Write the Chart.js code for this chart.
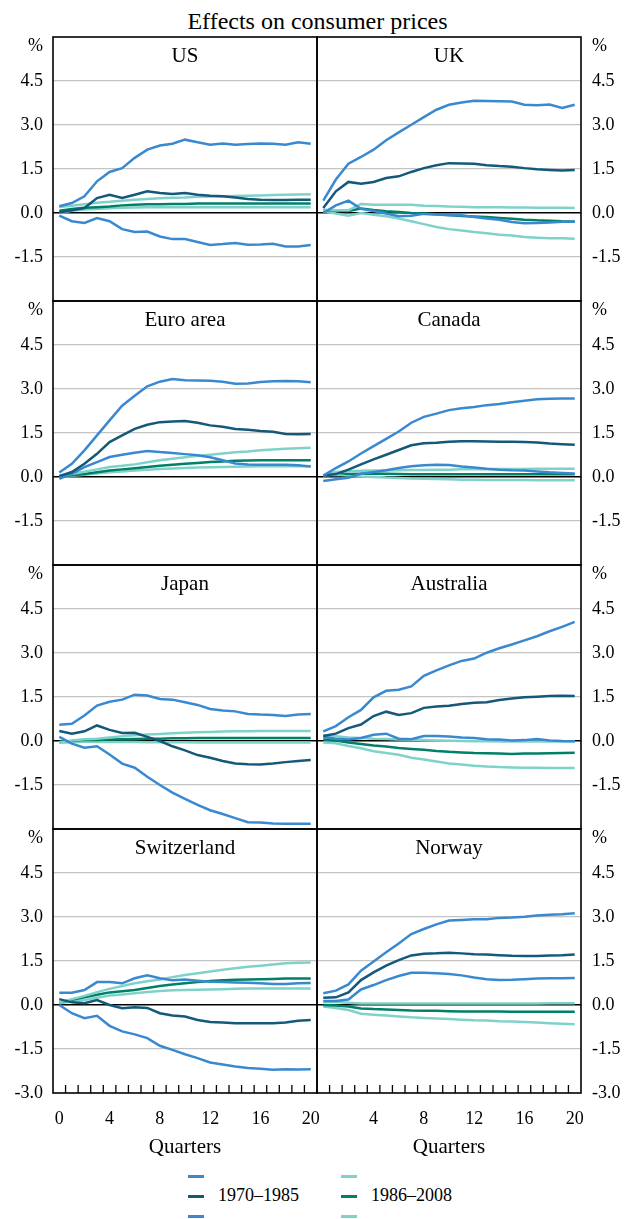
<!DOCTYPE html>
<html>
<head>
<meta charset="utf-8">
<title>Effects on consumer prices</title>
<script src="https://cdn.jsdelivr.net/npm/chart.js@4.4.1/dist/chart.umd.min.js"></script>
<style>
  html, body { margin: 0; padding: 0; background: #fff; }
  body {
    width: 629px; height: 1219px; position: relative; overflow: hidden;
    font-family: "Liberation Serif", "Times New Roman", serif; color: #000;
  }
  canvas { position: absolute; }
  #title {
    position: absolute; left: 0; top: 9px; width: 635px;
    text-align: center; font-size: 24px; line-height: 24px;
  }
  .legend-item {
    position: absolute; height: 18px; font-size: 18px; line-height: 18px; white-space: nowrap;
  }
  .legend-item .swatch {
    display: inline-block; width: 16px; height: 3px; vertical-align: middle; margin-right: 14px;
  }
</style>
</head>
<body>
<div id="title">Effects on consumer prices</div>
<div id="legend"></div>
<script>
// Trimestres del eje x y marcas visibles
const quarters = [0, 1, 2, 3, 4, 5, 6, 7, 8, 9, 10, 11, 12, 13, 14, 15, 16, 17, 18, 19, 20];
const quarterTicks = [0, 4, 8, 12, 16, 20];
const yTicks = [-3.0, -1.5, 0.0, 1.5, 3.0, 4.5, 6.0];

// Series: banda superior, central, banda inferior (1970–1985), luego lo mismo para 1986–2008
const seriesLabels = ["", "1970–1985", "", "", "1986–2008", ""];
const seriesColors = ["#3a89d0", "#14587a", "#3a89d0", "#7fd2c9", "#008066", "#7fd2c9"];

const usData = [
  [0.23, 0.34, 0.57, 1.08, 1.40, 1.53, 1.88, 2.16, 2.30, 2.36, 2.50, 2.41, 2.33, 2.37, 2.33, 2.35, 2.37, 2.36, 2.33, 2.41, 2.36],
  [0.02, 0.09, 0.17, 0.51, 0.62, 0.51, 0.62, 0.74, 0.68, 0.65, 0.68, 0.62, 0.59, 0.57, 0.53, 0.48, 0.45, 0.44, 0.44, 0.45, 0.45],
  [-0.09, -0.28, -0.34, -0.17, -0.28, -0.55, -0.65, -0.63, -0.80, -0.89, -0.89, -0.99, -1.09, -1.06, -1.02, -1.08, -1.07, -1.05, -1.14, -1.14, -1.09],
  [0.20, 0.25, 0.30, 0.35, 0.38, 0.42, 0.45, 0.48, 0.50, 0.52, 0.53, 0.55, 0.56, 0.57, 0.58, 0.59, 0.60, 0.61, 0.62, 0.63, 0.64],
  [0.08, 0.14, 0.18, 0.20, 0.22, 0.26, 0.28, 0.30, 0.30, 0.31, 0.31, 0.32, 0.32, 0.32, 0.32, 0.32, 0.32, 0.32, 0.32, 0.32, 0.32],
  [0.00, 0.08, 0.12, 0.14, 0.16, 0.18, 0.19, 0.20, 0.20, 0.20, 0.20, 0.20, 0.20, 0.20, 0.20, 0.20, 0.20, 0.20, 0.20, 0.20, 0.20]
];

const ukData = [
  [0.42, 1.14, 1.68, 1.91, 2.16, 2.48, 2.75, 3.01, 3.27, 3.52, 3.69, 3.77, 3.83, 3.82, 3.81, 3.80, 3.69, 3.67, 3.70, 3.58, 3.69],
  [0.17, 0.74, 1.06, 1.00, 1.06, 1.19, 1.25, 1.40, 1.53, 1.63, 1.70, 1.69, 1.68, 1.63, 1.60, 1.58, 1.53, 1.49, 1.47, 1.45, 1.47],
  [0.00, 0.26, 0.42, 0.14, 0.07, -0.02, -0.11, -0.09, -0.03, -0.05, -0.08, -0.08, -0.14, -0.19, -0.23, -0.31, -0.35, -0.34, -0.32, -0.30, -0.30],
  [0.11, 0.09, 0.09, 0.31, 0.28, 0.28, 0.28, 0.28, 0.25, 0.24, 0.22, 0.21, 0.20, 0.20, 0.20, 0.19, 0.19, 0.18, 0.18, 0.18, 0.17],
  [0.09, 0.08, 0.07, 0.15, 0.10, 0.06, 0.03, 0.00, -0.02, -0.04, -0.07, -0.10, -0.12, -0.14, -0.17, -0.20, -0.23, -0.25, -0.26, -0.28, -0.29],
  [0.06, -0.02, -0.09, 0.00, -0.06, -0.11, -0.19, -0.28, -0.38, -0.48, -0.55, -0.60, -0.65, -0.69, -0.74, -0.77, -0.82, -0.84, -0.86, -0.86, -0.88]
];

const euroData = [
  [0.15, 0.45, 0.91, 1.42, 1.93, 2.43, 2.77, 3.09, 3.25, 3.34, 3.30, 3.29, 3.28, 3.25, 3.18, 3.19, 3.24, 3.26, 3.27, 3.26, 3.23],
  [0.03, 0.17, 0.45, 0.79, 1.19, 1.42, 1.64, 1.78, 1.87, 1.89, 1.91, 1.85, 1.76, 1.71, 1.64, 1.61, 1.57, 1.54, 1.47, 1.46, 1.47],
  [-0.06, 0.11, 0.34, 0.51, 0.68, 0.76, 0.83, 0.89, 0.85, 0.82, 0.78, 0.74, 0.67, 0.57, 0.46, 0.43, 0.42, 0.42, 0.42, 0.40, 0.36],
  [0.05, 0.10, 0.18, 0.26, 0.34, 0.38, 0.43, 0.50, 0.57, 0.62, 0.67, 0.72, 0.76, 0.80, 0.84, 0.87, 0.91, 0.94, 0.96, 0.98, 1.00],
  [0.02, 0.06, 0.10, 0.16, 0.22, 0.26, 0.30, 0.34, 0.38, 0.42, 0.45, 0.48, 0.51, 0.53, 0.55, 0.56, 0.57, 0.57, 0.57, 0.57, 0.57],
  [0.00, 0.04, 0.08, 0.12, 0.16, 0.19, 0.22, 0.25, 0.27, 0.29, 0.31, 0.32, 0.33, 0.34, 0.35, 0.36, 0.37, 0.37, 0.37, 0.37, 0.37]
];

const canadaData = [
  [0.05, 0.30, 0.53, 0.80, 1.05, 1.30, 1.55, 1.85, 2.05, 2.16, 2.28, 2.34, 2.39, 2.45, 2.49, 2.55, 2.60, 2.65, 2.67, 2.68, 2.68],
  [0.05, 0.10, 0.25, 0.43, 0.60, 0.76, 0.92, 1.08, 1.15, 1.17, 1.20, 1.22, 1.22, 1.21, 1.20, 1.20, 1.19, 1.18, 1.14, 1.12, 1.10],
  [-0.14, -0.08, -0.03, 0.11, 0.17, 0.23, 0.31, 0.37, 0.40, 0.42, 0.41, 0.36, 0.32, 0.28, 0.25, 0.23, 0.22, 0.19, 0.16, 0.14, 0.12],
  [0.05, 0.17, 0.20, 0.21, 0.22, 0.22, 0.23, 0.24, 0.24, 0.25, 0.25, 0.26, 0.26, 0.26, 0.27, 0.27, 0.27, 0.28, 0.28, 0.28, 0.28],
  [0.05, 0.15, 0.10, 0.11, 0.12, 0.11, 0.10, 0.09, 0.09, 0.09, 0.09, 0.09, 0.09, 0.09, 0.09, 0.09, 0.09, 0.09, 0.09, 0.09, 0.09],
  [0.05, 0.08, 0.05, 0.02, 0.00, -0.02, -0.03, -0.05, -0.06, -0.07, -0.08, -0.09, -0.09, -0.10, -0.10, -0.10, -0.10, -0.11, -0.11, -0.11, -0.11]
];

const japanData = [
  [0.55, 0.59, 0.87, 1.21, 1.34, 1.41, 1.58, 1.55, 1.43, 1.41, 1.32, 1.23, 1.09, 1.04, 1.01, 0.92, 0.90, 0.89, 0.85, 0.90, 0.92],
  [0.34, 0.25, 0.33, 0.53, 0.38, 0.27, 0.28, 0.14, 0.00, -0.18, -0.32, -0.48, -0.57, -0.68, -0.77, -0.79, -0.80, -0.77, -0.72, -0.68, -0.65],
  [0.14, -0.09, -0.23, -0.18, -0.46, -0.77, -0.91, -1.22, -1.50, -1.76, -1.97, -2.18, -2.36, -2.49, -2.63, -2.77, -2.78, -2.81, -2.82, -2.82, -2.82],
  [-0.05, 0.02, 0.06, 0.08, 0.12, 0.16, 0.20, 0.22, 0.24, 0.26, 0.28, 0.30, 0.31, 0.32, 0.33, 0.33, 0.34, 0.34, 0.34, 0.34, 0.34],
  [-0.02, 0.00, 0.04, 0.03, 0.05, 0.06, 0.07, 0.08, 0.08, 0.09, 0.09, 0.10, 0.10, 0.10, 0.10, 0.10, 0.10, 0.10, 0.10, 0.10, 0.10],
  [-0.06, -0.04, -0.02, -0.03, -0.03, -0.03, -0.03, -0.04, -0.04, -0.04, -0.04, -0.05, -0.05, -0.05, -0.05, -0.05, -0.05, -0.05, -0.05, -0.05, -0.05]
];

const australiaData = [
  [0.33, 0.51, 0.81, 1.06, 1.49, 1.71, 1.75, 1.86, 2.22, 2.41, 2.58, 2.73, 2.81, 3.01, 3.16, 3.29, 3.43, 3.57, 3.74, 3.89, 4.06],
  [0.17, 0.25, 0.44, 0.56, 0.85, 1.00, 0.89, 0.95, 1.13, 1.18, 1.20, 1.26, 1.30, 1.32, 1.40, 1.45, 1.49, 1.51, 1.53, 1.54, 1.53],
  [0.14, 0.08, 0.05, 0.10, 0.21, 0.25, 0.08, 0.06, 0.17, 0.17, 0.15, 0.12, 0.10, 0.06, 0.05, 0.02, 0.03, 0.07, 0.02, 0.00, -0.01],
  [0.19, 0.16, 0.12, 0.10, 0.08, 0.07, 0.05, 0.04, 0.03, 0.02, 0.01, 0.00, -0.01, -0.01, -0.02, -0.02, -0.02, -0.02, -0.02, -0.02, -0.02],
  [0.05, 0.02, -0.05, -0.10, -0.15, -0.19, -0.24, -0.27, -0.30, -0.34, -0.37, -0.39, -0.41, -0.42, -0.43, -0.44, -0.43, -0.43, -0.42, -0.41, -0.40],
  [-0.05, -0.08, -0.17, -0.25, -0.35, -0.41, -0.47, -0.57, -0.63, -0.70, -0.77, -0.80, -0.84, -0.87, -0.89, -0.90, -0.91, -0.91, -0.92, -0.92, -0.92]
];

const switzerlandData = [
  [0.42, 0.42, 0.51, 0.78, 0.78, 0.74, 0.91, 1.01, 0.91, 0.84, 0.87, 0.83, 0.79, 0.78, 0.77, 0.76, 0.74, 0.72, 0.72, 0.74, 0.75],
  [0.20, 0.09, 0.06, 0.17, 0.00, -0.11, -0.08, -0.10, -0.28, -0.36, -0.39, -0.51, -0.58, -0.60, -0.62, -0.62, -0.62, -0.62, -0.60, -0.54, -0.51],
  [0.00, -0.28, -0.45, -0.37, -0.71, -0.90, -1.00, -1.13, -1.39, -1.53, -1.68, -1.81, -1.96, -2.03, -2.10, -2.15, -2.17, -2.21, -2.19, -2.20, -2.19],
  [0.09, 0.20, 0.31, 0.44, 0.55, 0.65, 0.74, 0.81, 0.87, 0.95, 1.02, 1.08, 1.14, 1.20, 1.25, 1.30, 1.34, 1.38, 1.42, 1.44, 1.45],
  [0.09, 0.18, 0.26, 0.35, 0.43, 0.47, 0.51, 0.58, 0.65, 0.70, 0.74, 0.78, 0.82, 0.84, 0.86, 0.87, 0.88, 0.89, 0.90, 0.90, 0.90],
  [0.06, 0.12, 0.17, 0.25, 0.32, 0.36, 0.40, 0.44, 0.48, 0.50, 0.51, 0.52, 0.53, 0.54, 0.55, 0.56, 0.56, 0.56, 0.56, 0.56, 0.56]
];

const norwayData = [
  [0.40, 0.49, 0.70, 1.17, 1.48, 1.80, 2.10, 2.42, 2.59, 2.75, 2.88, 2.90, 2.92, 2.92, 2.97, 2.98, 3.01, 3.05, 3.08, 3.09, 3.13],
  [0.25, 0.26, 0.43, 0.85, 1.11, 1.34, 1.53, 1.69, 1.75, 1.76, 1.78, 1.76, 1.73, 1.72, 1.70, 1.68, 1.67, 1.67, 1.69, 1.70, 1.72],
  [0.14, 0.14, 0.19, 0.53, 0.68, 0.85, 0.99, 1.10, 1.10, 1.08, 1.06, 1.01, 0.94, 0.88, 0.85, 0.86, 0.88, 0.90, 0.91, 0.91, 0.92],
  [0.10, 0.10, 0.08, 0.05, 0.05, 0.05, 0.05, 0.05, 0.05, 0.05, 0.05, 0.05, 0.05, 0.05, 0.05, 0.05, 0.05, 0.05, 0.06, 0.06, 0.06],
  [0.00, -0.02, -0.05, -0.12, -0.14, -0.15, -0.17, -0.19, -0.20, -0.20, -0.21, -0.22, -0.22, -0.22, -0.22, -0.23, -0.23, -0.23, -0.23, -0.23, -0.23],
  [-0.05, -0.10, -0.17, -0.30, -0.33, -0.36, -0.39, -0.42, -0.44, -0.46, -0.48, -0.50, -0.52, -0.53, -0.55, -0.56, -0.58, -0.60, -0.62, -0.64, -0.66]
];

const panelNames = ["US", "UK", "Euro area", "Canada", "Japan", "Australia", "Switzerland", "Norway"];
const panelData = [usData, ukData, euroData, canadaData, japanData, australiaData, switzerlandData, norwayData];

// Geometría del marco
const FRAME_TOP = 37;
const PANEL_H = 264;
const FONT = '"Liberation Serif", "Times New Roman", serif';
const AXIS_FONT = { family: FONT, size: 18 };

Chart.defaults.font.family = FONT;
Chart.defaults.color = "#000";

// Marco, título del panel, signo % y marcas interiores del eje x
const panelDecor = {
  id: "panelDecor",
  afterDraw(chart, args, opts) {
    const { ctx, chartArea: a } = chart;
    ctx.save();
    if (opts.ticks) {
      const xs = chart.scales.x;
      ctx.strokeStyle = "#000";
      ctx.lineWidth = 1.3;
      ctx.beginPath();
      for (let i = 0; i < quarters.length - 1; i++) {
        const px = (xs.getPixelForValue(i) + xs.getPixelForValue(i + 1)) / 2;
        ctx.moveTo(px, a.bottom);
        ctx.lineTo(px, a.bottom - 8);
      }
      ctx.stroke();
    }
    ctx.strokeStyle = "#000";
    ctx.lineWidth = 1.6;
    ctx.strokeRect(a.left, a.top, a.right - a.left, a.bottom - a.top);

    ctx.fillStyle = "#000";
    ctx.textBaseline = "alphabetic";
    ctx.font = "21px " + FONT;
    ctx.textAlign = "center";
    ctx.fillText(opts.name, (a.left + a.right) / 2, a.top + 25);

    ctx.font = "18px " + FONT;
    ctx.textAlign = opts.left ? "right" : "left";
    ctx.fillText("%", opts.left ? a.left - 10 : a.right + 11, a.top + 14);
    ctx.restore();
  }
};

function makePanel(index) {
  const isLeft = index % 2 === 0;
  const row = Math.floor(index / 2);
  const isBottom = row === 3;

  const canvas = document.createElement("canvas");
  canvas.width = isLeft ? 320 : 315;
  canvas.height = isBottom ? 3 + PANEL_H + 71 : PANEL_H + 6;
  canvas.style.left = (isLeft ? 0 : 314) + "px";
  canvas.style.top = (FRAME_TOP + row * PANEL_H - 3) + "px";
  document.body.appendChild(canvas);

  const datasets = panelData[index].map((values, i) => ({
    label: seriesLabels[i],
    data: values,
    borderColor: seriesColors[i],
    backgroundColor: seriesColors[i],
    borderWidth: 2.5,
    pointRadius: 0,
    tension: 0,
    fill: false
  }));

  new Chart(canvas.getContext("2d"), {
    type: "line",
    data: { labels: quarters, datasets },
    plugins: [panelDecor],
    options: {
      responsive: false,
      animation: false,
      layout: {
        padding: { left: isLeft ? 0 : 3, right: isLeft ? 3 : 0, top: 3, bottom: isBottom ? 0 : 3 }
      },
      plugins: {
        legend: { display: false },
        tooltip: { enabled: false },
        panelDecor: { name: panelNames[index], left: isLeft, ticks: isBottom }
      },
      scales: {
        x: {
          type: "category",
          offset: true,
          display: isBottom,
          grid: { display: false },
          border: { display: false },
          ticks: {
            autoSkip: false,
            maxRotation: 0,
            padding: 7,
            font: AXIS_FONT,
            callback: (value, i) => {
              const q = quarters[i];
              if (!quarterTicks.includes(q)) return "";
              if (!isLeft && q === 0) return "";
              return String(q);
            }
          },
          title: { display: true, text: "Quarters", font: { family: FONT, size: 21 }, padding: { top: 0, bottom: 4 } },
          afterFit: (scale) => {
            if (isBottom) scale.height = 71;
            scale.paddingLeft = 0;
            scale.paddingRight = 0;
          }
        },
        y: {
          position: isLeft ? "left" : "right",
          min: yTicks[0],
          max: yTicks[yTicks.length - 1],
          afterBuildTicks: (scale) => {
            scale.ticks = yTicks.map((v) => ({ value: v }));
          },
          grid: {
            drawTicks: false,
            color: (ctx) => {
              const v = ctx.tick.value;
              if (v === yTicks[0] || v === yTicks[yTicks.length - 1]) return "rgba(0,0,0,0)";
              return v === 0 ? "#000" : "#c4c4c4";
            },
            lineWidth: (ctx) => (ctx.tick.value === 0 ? 1.5 : 1.2)
          },
          border: { display: false },
          ticks: {
            padding: isLeft ? 10 : 11,
            font: AXIS_FONT,
            callback: (value) => {
              if (value === yTicks[yTicks.length - 1]) return "";
              if (value === yTicks[0] && !isBottom) return "";
              return value.toFixed(1);
            }
          },
          afterFit: (scale) => {
            scale.width = isLeft ? 53 : 48;
            scale.paddingTop = 0;
            scale.paddingBottom = 0;
          }
        }
      }
    }
  });
}

panelNames.forEach((name, i) => makePanel(i));

// Leyenda: dos columnas de tres líneas, solo la central lleva texto
const legendColumns = [[0, 1, 2], [3, 4, 5]];
const legendX = [188, 341];
const legendY = [1175, 1195, 1215];
const legend = document.getElementById("legend");
legendColumns.forEach((col, c) => {
  col.forEach((s, r) => {
    const item = document.createElement("div");
    item.className = "legend-item";
    item.style.left = legendX[c] + "px";
    item.style.top = (legendY[r] - 9) + "px";
    const sw = document.createElement("span");
    sw.className = "swatch";
    sw.style.background = seriesColors[s];
    item.appendChild(sw);
    if (seriesLabels[s]) item.appendChild(document.createTextNode(seriesLabels[s]));
    legend.appendChild(item);
  });
});
</script>
</body>
</html>
